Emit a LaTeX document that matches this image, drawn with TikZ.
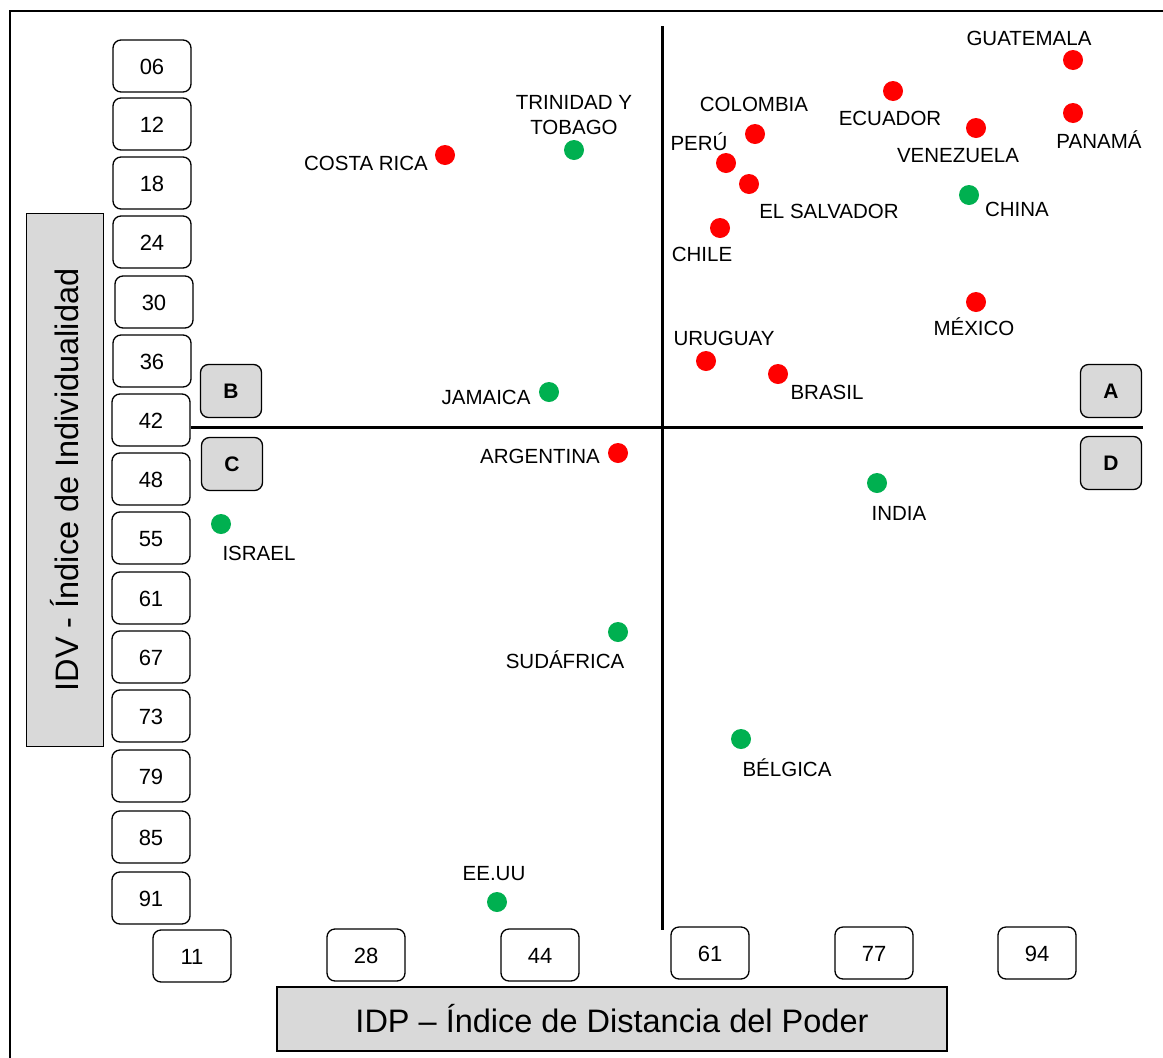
\documentclass[tikz,border=0pt]{standalone}
\usepackage{fontspec}
\setmainfont{Liberation Sans}
\definecolor{boxgray}{HTML}{D9D9D9}
\definecolor{dotred}{HTML}{FF0000}
\definecolor{dotgreen}{HTML}{00B050}
\begin{document}
\begin{tikzpicture}[x=1pt,y=-1pt,
  numbox/.style={draw, rounded corners=8pt, line width=1.3pt, minimum width=78pt, minimum height=52pt,
    inner sep=0pt, text height=16pt, text depth=0pt, font=\fontsize{22}{24}\selectfont},
  quadbox/.style={draw, fill=boxgray, rounded corners=8pt, line width=1.3pt, minimum width=61pt, minimum height=53pt,
    inner sep=0pt, text height=15pt, text depth=0pt, font=\fontsize{21}{24}\selectfont\bfseries},
  axisbox/.style={draw, fill=boxgray, line width=1.3pt, inner sep=0pt, font=\fontsize{32.5}{34}\selectfont},
  rdot/.style={circle, fill=dotred, inner sep=0pt, minimum size=20pt},
  gdot/.style={circle, fill=dotgreen, inner sep=0pt, minimum size=20pt},
  lbl/.style={inner sep=0pt, text height=14.5pt, text depth=0pt, font=\fontsize{20.5}{24}\selectfont},
  axisline/.style={line width=3pt}
]
\useasboundingbox (0,0) rectangle (1163,1058);
% outer frame (top and left edges)
\draw[line width=1.6pt] (10,1058) -- (10,11) -- (1163,11);

% vertical scale (IDV)
\node[numbox] (y06) at (152,66) {06};
\node[numbox] (y12) at (152,124) {12};
\node[numbox] (y18) at (152,183) {18};
\node[numbox] (y24) at (152,242) {24};
\node[numbox] (y30) at (154,302) {30};
\node[numbox] (y36) at (152,361) {36};
\node[numbox] (y42) at (151,420) {42};
\node[numbox] (y48) at (151,479) {48};
\node[numbox] (y55) at (151,538) {55};
\node[numbox] (y61) at (151,598) {61};
\node[numbox] (y67) at (151,657) {67};
\node[numbox] (y73) at (151,716) {73};
\node[numbox] (y79) at (151,776) {79};
\node[numbox] (y85) at (151,837) {85};
\node[numbox] (y91) at (151,898) {91};

% horizontal scale (IDP)
\node[numbox] (x11) at (192,956) {11};
\node[numbox] (x28) at (366,955) {28};
\node[numbox] (x44) at (540,955) {44};
\node[numbox] (x61) at (710,953) {61};
\node[numbox] (x77) at (874,953) {77};
\node[numbox] (x94) at (1037,953) {94};

% axis titles
\node[axisbox, minimum width=670pt, minimum height=64pt] (idp) at (612,1019) {IDP – Índice de Distancia del Poder};
\node[axisbox, minimum width=533pt, minimum height=77pt, rotate=90] (idv) at (65,480) {IDV - Índice de Individualidad};

% quadrant dividers
\coordinate (hend) at (1143,427);
\coordinate (vtop) at (662,26);
\coordinate (vbot) at (662,930);
\draw[axisline] (y42.east |- hend) -- (hend);
\draw[axisline] (vtop) -- (vbot);

% quadrant tags
\node[quadbox] (qB) at (231,391) {B};
\node[quadbox] (qC) at (232,464) {C};
\node[quadbox] (qA) at (1111,391) {A};
\node[quadbox] (qD) at (1111,463) {D};

% countries
\node[rdot] (costarica) at (445,155) {};
\node[lbl] (costarica-l) at (366,163) {COSTA RICA};
\node[gdot] (trinidad) at (574,150) {};
\node[lbl] (trinidad-l1) at (574,102) {TRINIDAD Y};
\node[lbl] (trinidad-l2) at (574,127) {TOBAGO};
\node[rdot] (colombia) at (755,134) {};
\node[lbl] (colombia-l) at (754,104) {COLOMBIA};
\node[rdot] (peru) at (726,163) {};
\node[lbl] (peru-l) at (699,143) {PERÚ};
\node[rdot] (salvador) at (749,184) {};
\node[lbl] (salvador-l) at (829,211) {EL SALVADOR};
\node[rdot] (chile) at (720,228) {};
\node[lbl] (chile-l) at (702,254) {CHILE};
\node[rdot] (ecuador) at (893,91) {};
\node[lbl] (ecuador-l) at (890,118) {ECUADOR};
\node[rdot] (venezuela) at (976,128) {};
\node[lbl] (venezuela-l) at (958,155) {VENEZUELA};
\node[rdot] (guatemala) at (1073,60) {};
\node[lbl] (guatemala-l) at (1029,38) {GUATEMALA};
\node[rdot] (panama) at (1073,113) {};
\node[lbl] (panama-l) at (1099,141) {PANAMÁ};
\node[gdot] (china) at (969,195) {};
\node[lbl] (china-l) at (1017,209) {CHINA};
\node[rdot] (mexico) at (976,302) {};
\node[lbl] (mexico-l) at (974,328) {MÉXICO};
\node[rdot] (uruguay) at (706,361) {};
\node[lbl] (uruguay-l) at (724,338) {URUGUAY};
\node[rdot] (brasil) at (778,374) {};
\node[lbl] (brasil-l) at (827,392) {BRASIL};
\node[gdot] (jamaica) at (549,392) {};
\node[lbl] (jamaica-l) at (486,397) {JAMAICA};
\node[rdot] (argentina) at (618,453) {};
\node[lbl] (argentina-l) at (540,456) {ARGENTINA};
\node[gdot] (india) at (877,483) {};
\node[lbl] (india-l) at (899,513) {INDIA};
\node[gdot] (israel) at (221,524) {};
\node[lbl] (israel-l) at (259,553) {ISRAEL};
\node[gdot] (sudafrica) at (618,632) {};
\node[lbl] (sudafrica-l) at (565,661) {SUDÁFRICA};
\node[gdot] (belgica) at (741,739) {};
\node[lbl] (belgica-l) at (787,769) {BÉLGICA};
\node[gdot] (eeuu) at (497,902) {};
\node[lbl] (eeuu-l) at (494,873) {EE.UU};
\end{tikzpicture}
\end{document}
